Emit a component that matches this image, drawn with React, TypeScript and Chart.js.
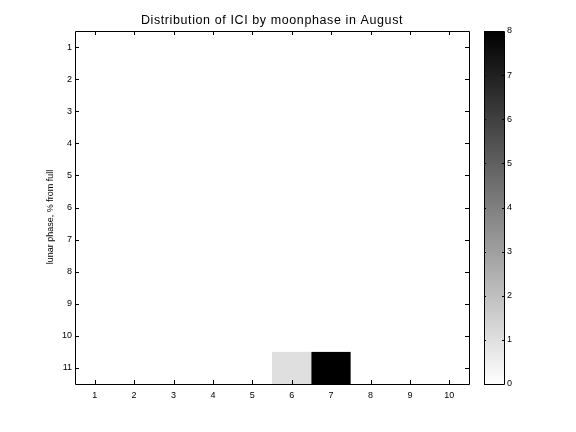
import React, { useEffect, useRef } from "react";
import { Chart, registerables } from "chart.js";

Chart.register(...registerables);

// ---- data ----
const xCategories = [1, 2, 3, 4, 5, 6, 7, 8, 9, 10];
const yCategories = [1, 2, 3, 4, 5, 6, 7, 8, 9, 10, 11];
const counts: number[][] = [
  [0, 0, 0, 0, 0, 0, 0, 0, 0, 0], // 1
  [0, 0, 0, 0, 0, 0, 0, 0, 0, 0], // 2
  [0, 0, 0, 0, 0, 0, 0, 0, 0, 0], // 3
  [0, 0, 0, 0, 0, 0, 0, 0, 0, 0], // 4
  [0, 0, 0, 0, 0, 0, 0, 0, 0, 0], // 5
  [0, 0, 0, 0, 0, 0, 0, 0, 0, 0], // 6
  [0, 0, 0, 0, 0, 0, 0, 0, 0, 0], // 7
  [0, 0, 0, 0, 0, 0, 0, 0, 0, 0], // 8
  [0, 0, 0, 0, 0, 0, 0, 0, 0, 0], // 9
  [0, 0, 0, 0, 0, 0, 0, 0, 0, 0], // 10
  [0, 0, 0, 0, 0, 1, 8, 0, 0, 0], // 11
];
const colorbarTicks = [0, 1, 2, 3, 4, 5, 6, 7, 8];
const colorMin = 0;
const colorMax = 8;
const titleText = "Distribution of ICI by moonphase in August";
const yTitleText = "lunar phase, % from full";

const FONT = '"Liberation Sans", Arial, Helvetica, sans-serif';

function grayFor(v: number): string {
  const t = Math.max(0, Math.min(1, (v - colorMin) / (colorMax - colorMin)));
  const g = Math.round(255 * (1 - t));
  return `rgb(${g},${g},${g})`;
}

const cells = yCategories.flatMap((yv, ri) =>
  xCategories.map((xv, ci) => ({ x: xv, y: yv, v: counts[ri][ci] }))
);

const bgPlugin = {
  id: "bg",
  beforeDraw(chart: any) {
    const ctx = chart.ctx;
    ctx.save();
    ctx.fillStyle = "#fff";
    ctx.fillRect(0, 0, chart.width, chart.height);
    ctx.restore();
  },
};

const heatPlugin = {
  id: "heat",
  beforeDatasetsDraw(chart: any) {
    const { ctx } = chart;
    const xs = chart.scales.x;
    const ys = chart.scales.y;
    const data = chart.data.datasets[0].data as any[];
    ctx.save();
    for (const d of data) {
      const x0 = xs.getPixelForValue(d.x - 0.5);
      const x1 = xs.getPixelForValue(d.x + 0.5);
      const y0 = ys.getPixelForValue(d.y - 0.5);
      const y1 = ys.getPixelForValue(d.y + 0.5);
      ctx.fillStyle = grayFor(d.v);
      ctx.fillRect(
        Math.min(x0, x1),
        Math.min(y0, y1),
        Math.abs(x1 - x0),
        Math.abs(y1 - y0)
      );
    }
    ctx.restore();
  },
};

const framePlugin = {
  id: "frame",
  afterDraw(chart: any) {
    const { ctx, chartArea: a } = chart;
    const xs = chart.scales.x;
    const ys = chart.scales.y;
    const tl = 4;
    ctx.save();
    ctx.strokeStyle = "#000";
    ctx.lineWidth = 1;
    ctx.beginPath();
    ctx.rect(Math.round(a.left) + 0.5, Math.round(a.top) + 0.5, Math.round(a.right - a.left), Math.round(a.bottom - a.top));
    for (const v of xCategories) {
      const px = Math.round(xs.getPixelForValue(v)) + 0.5;
      ctx.moveTo(px, a.bottom);
      ctx.lineTo(px, a.bottom - tl);
      ctx.moveTo(px, a.top);
      ctx.lineTo(px, a.top + tl);
    }
    for (const v of yCategories) {
      const py = Math.round(ys.getPixelForValue(v)) + 0.5;
      ctx.moveTo(a.left, py);
      ctx.lineTo(a.left + tl, py);
      ctx.moveTo(a.right, py);
      ctx.lineTo(a.right - tl, py);
    }
    ctx.stroke();

    // title
    ctx.fillStyle = "#000";
    ctx.font = `12.5px ${FONT}`;
    (ctx as any).letterSpacing = "0.6px";
    ctx.textAlign = "center";
    ctx.textBaseline = "alphabetic";
    ctx.fillText(titleText, (a.left + a.right) / 2, 24);
    (ctx as any).letterSpacing = "0px";

    // y title
    ctx.save();
    ctx.translate(53, 217);
    ctx.rotate(-Math.PI / 2);
    ctx.font = `9px ${FONT}`;
    ctx.textAlign = "center";
    ctx.textBaseline = "alphabetic";
    ctx.fillText(yTitleText, 0, 0);
    ctx.restore();
    ctx.restore();
  },
};

const colorbarPlugin = {
  id: "colorbar",
  beforeDatasetsDraw(chart: any) {
    const { ctx, chartArea: a } = chart;
    const ys = chart.scales.y;
    const yTop = ys.getPixelForValue(colorMax);
    const yBot = ys.getPixelForValue(colorMin);
    const grad = ctx.createLinearGradient(0, yBot, 0, yTop);
    grad.addColorStop(0, grayFor(colorMin));
    grad.addColorStop(1, grayFor(colorMax));
    ctx.save();
    ctx.fillStyle = grad;
    ctx.fillRect(a.left, yTop, a.right - a.left, yBot - yTop);
    ctx.restore();
  },
  afterDraw(chart: any) {
    const { ctx, chartArea: a } = chart;
    const ys = chart.scales.y;
    const tl = 2;
    ctx.save();
    ctx.strokeStyle = "#000";
    ctx.lineWidth = 1;
    ctx.beginPath();
    ctx.rect(Math.round(a.left) + 0.5, Math.round(a.top) + 0.5, Math.round(a.right - a.left), Math.round(a.bottom - a.top));
    for (const v of colorbarTicks) {
      const py = Math.round(ys.getPixelForValue(v)) + 0.5;
      ctx.moveTo(a.left, py);
      ctx.lineTo(a.left + tl, py);
      ctx.moveTo(a.right, py);
      ctx.lineTo(a.right - tl, py);
    }
    ctx.stroke();
    ctx.restore();
  },
};

export default function App() {
  const mainRef = useRef<HTMLCanvasElement | null>(null);
  const cbRef = useRef<HTMLCanvasElement | null>(null);

  useEffect(() => {
    if (!mainRef.current || !cbRef.current) return;
    const tickFont = { family: FONT, size: 9 };
    const main = new Chart(mainRef.current, {
      type: "scatter",
      data: { datasets: [{ data: cells as any, pointRadius: 0 }] },
      options: {
        animation: false,
        responsive: false,
        devicePixelRatio: 1,
        layout: { padding: { left: 0, top: 31, right: 107, bottom: 0 } },
        plugins: { legend: { display: false }, tooltip: { enabled: false }, title: { display: false } },
        scales: {
          x: {
            type: "linear",
            min: 0.5,
            max: 10.5,
            afterBuildTicks: (s: any) => {
              s.ticks = xCategories.map((v) => ({ value: v }));
            },
            afterFit: (s: any) => {
              s.height = 48;
            },
            grid: { display: false, drawTicks: false },
            border: { display: false },
            ticks: { color: "#000", font: tickFont, padding: 6, maxRotation: 0, autoSkip: false },
          },
          y: {
            type: "linear",
            reverse: true,
            min: 0.5,
            max: 11.5,
            afterBuildTicks: (s: any) => {
              s.ticks = yCategories.map((v) => ({ value: v }));
            },
            afterFit: (s: any) => {
              s.width = 75;
            },
            grid: { display: false, drawTicks: false },
            border: { display: false },
            ticks: { color: "#000", font: tickFont, padding: 3, autoSkip: false },
          },
        },
      },
      plugins: [bgPlugin, heatPlugin, framePlugin],
    });

    const cb = new Chart(cbRef.current, {
      type: "scatter",
      data: { datasets: [{ data: [], pointRadius: 0 }] },
      options: {
        animation: false,
        responsive: false,
        devicePixelRatio: 1,
        layout: { padding: { left: 484, top: 31, right: 0, bottom: 48 } },
        plugins: { legend: { display: false }, tooltip: { enabled: false }, title: { display: false } },
        scales: {
          x: { type: "linear", display: false, min: 0, max: 1 },
          y: {
            type: "linear",
            position: "right",
            min: colorMin,
            max: colorMax,
            afterBuildTicks: (s: any) => {
              s.ticks = colorbarTicks.map((v) => ({ value: v }));
            },
            afterFit: (s: any) => {
              s.width = 72;
            },
            grid: { display: false, drawTicks: false },
            border: { display: false },
            ticks: { color: "#000", font: tickFont, padding: 3, autoSkip: false },
          },
        },
      },
      plugins: [colorbarPlugin],
    });

    return () => {
      main.destroy();
      cb.destroy();
    };
  }, []);

  return (
    <div style={{ position: "fixed", left: 0, top: 0, width: 576, height: 432, background: "#fff" }}>
      <canvas ref={mainRef} width={576} height={432} style={{ position: "absolute", left: 0, top: 0 }} />
      <canvas ref={cbRef} width={576} height={432} style={{ position: "absolute", left: 0, top: 0 }} />
    </div>
  );
}
